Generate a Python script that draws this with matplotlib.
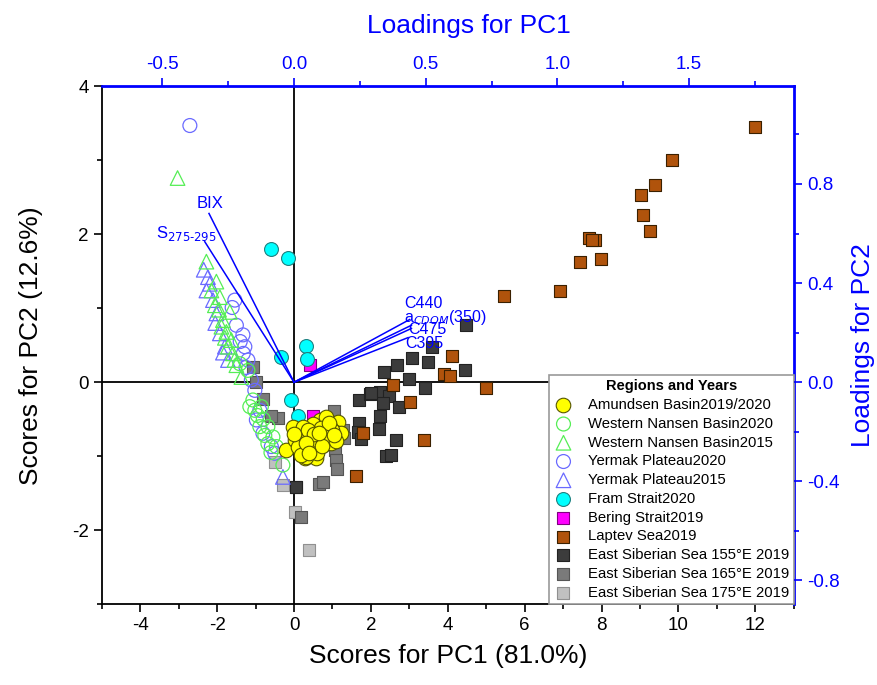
import numpy as np
import matplotlib.pyplot as plt
from matplotlib.ticker import MultipleLocator

plt.rcParams['font.family'] = ['Liberation Sans', 'DejaVu Sans']
plt.rcParams['axes.unicode_minus'] = False

# scores (PC1, PC2) per group
amundsen_x = [-0.03, -0.2, 0.28, 0.58, 0.67, 1.14, 0.88, 0.41, 0.15, 0.75, 0.02, 0.28, 0.93, 1.06,
              0.49, 0.23, 0.54, 1.01, 0.84, 1.23, 0.32, 0.62, 0.95, 0.7, 0.1, 0.45, 0.8, 1.1, 0.36,
              0.6, 0.0, 0.18, 0.98, 0.52, 0.72, 0.9, 0.3, 1.05, 0.66, 0.4]
amundsen_y = [-0.6, -0.92, -1.03, -1.03, -0.51, -0.54, -0.72, -0.69, -0.76, -0.85, -0.78, -0.9, -0.6,
              -0.67, -0.56, -0.6, -0.9, -0.74, -0.47, -0.69, -1.01, -0.78, -0.82, -0.62, -0.88, -0.8,
              -0.75, -0.8, -0.65, -0.95, -0.7, -0.98, -0.64, -0.7, -0.86, -0.55, -0.82, -0.72, -0.68, -0.95]
wnb2020_x = [-1.2, -1.07, -1.02, -0.85, -0.68, -0.76, -0.55, -0.89, -0.29, -1.15, -0.68, -0.46, -1.41,
             -0.95, -0.6, -0.8]
wnb2020_y = [0.16, -0.24, -0.38, -0.33, -0.6, -0.72, -0.74, -0.6, -1.12, -0.33, -0.83, -0.87, 0.25,
             -0.45, -0.95, -0.5]
wnb2015_x = [-3.03, -2.28, -2.02, -2.15, -1.93, -2.06, -1.67, -1.85, -1.76, -1.63, -1.72, -1.5, -1.37,
             -1.89, -1.59, -1.95, -1.8, -1.55]
wnb2015_y = [2.76, 1.63, 1.36, 1.24, 1.15, 1.04, 0.95, 0.84, 0.68, 0.57, 0.48, 0.23, 0.07,
             0.75, 0.39, 0.98, 0.6, 0.3]
yp2020_x = [-2.71, -1.54, -1.5, -1.33, -1.28, -1.32, -1.2, -1.11, -1.02, -0.89, -0.98, -0.81, -0.59,
            -0.5, -1.61, -1.4, -1.25]
yp2020_y = [3.47, 1.11, 0.77, 0.64, 0.48, 0.39, 0.3, 0.03, -0.11, -0.38, -0.51, -0.69, -0.87,
            -0.96, 1.01, 0.55, 0.2]
yp2015_x = [-2.24, -2.19, -2.28, -2.11, -2.02, -1.93, -1.8, -1.72, -0.29, -2.35, -2.05, -1.85]
yp2015_y = [1.42, 1.33, 1.24, 1.11, 0.93, 0.66, 0.48, 0.3, -1.28, 1.52, 0.8, 0.4]
fram_x = [-0.59, -0.16, 0.32, 0.34, -0.33, -0.07, 0.1]
fram_y = [1.8, 1.68, 0.49, 0.31, 0.34, -0.24, -0.46]
bering_x = [0.41, 0.5]
bering_y = [0.23, -0.46]
laptev_x = [12.0, 9.84, 9.40, 9.02, 9.09, 9.27, 7.67, 7.82, 7.75, 7.45, 7.99, 6.93, 5.45, 4.12,
            3.90, 4.05, 2.58, 4.99, 3.03, 3.38, 1.60, 1.79]
laptev_y = [3.45, 3.00, 2.66, 2.53, 2.26, 2.04, 1.95, 1.92, 1.92, 1.63, 1.67, 1.23, 1.16, 0.36,
            0.11, 0.09, -0.04, -0.08, -0.27, -0.78, -1.27, -0.69]
ess155_x = [4.47, 3.6, 3.08, 3.49, 2.68, 2.33, 2.98, 4.46, 3.42, 1.68, 1.97, 2.23, 2.47, 2.31, 2.72,
            2.23, 1.68, 2.2, 1.66, 1.73, 2.64, 2.4, 2.53, 2.0, 0.04]
ess155_y = [0.78, 0.47, 0.33, 0.28, 0.23, 0.14, 0.05, 0.17, -0.08, -0.24, -0.16, -0.13, -0.18, -0.28,
            -0.33, -0.46, -0.55, -0.63, -0.67, -0.77, -0.78, -1.0, -0.99, -0.15, -1.41]
ess165_x = [-1.07, -0.98, -0.8, -0.42, -0.59, 1.03, 1.27, 1.06, 1.1, 1.12, 0.64, 0.75, 0.04, 0.19, 1.3]
ess165_y = [0.21, 0.0, -0.22, -0.49, -0.45, -0.39, -0.65, -0.92, -1.05, -1.17, -1.38, -1.35, -1.41,
            -1.82, -0.75]
ess175_x = [-0.5, -0.29, 0.02, 0.38]
ess175_y = [-1.08, -1.39, -1.75, -2.27]

# loadings (PC1, PC2)
load_names = ['BIX', 'S275', 'C440', 'aCDOM', 'C475', 'C395']
load_x = [-0.323, -0.339, 0.439, 0.446, 0.446, 0.433]
load_y = [0.681, 0.567, 0.253, 0.230, 0.217, 0.180]

blue = '#0000FF'

fig = plt.figure(figsize=(8.78, 6.85), dpi=100)
ax = fig.add_axes([0.116, 0.118, 0.788, 0.756])
ax.set_xlim(-5, 13)
ax.set_ylim(-3, 4)
ax.axhline(0, color='black', lw=1.3, zorder=1)
ax.axvline(0, color='black', lw=1.3, zorder=1)

# drawn back to front
ax.scatter(ess175_x, ess175_y, s=80, marker='s', c='#C0C0C0', edgecolors='#909090', lw=0.8, zorder=2,
           label='East Siberian Sea 175°E 2019')
ax.scatter(ess165_x, ess165_y, s=80, marker='s', c='#7A7A7A', edgecolors='#555555', lw=0.8, zorder=2,
           label='East Siberian Sea 165°E 2019')
ax.scatter(ess155_x, ess155_y, s=80, marker='s', c='#3C3C3C', edgecolors='#222222', lw=0.8, zorder=2,
           label='East Siberian Sea 155°E 2019')
ax.scatter(laptev_x, laptev_y, s=80, marker='s', c='#B0530C', edgecolors='#3A2000', lw=0.8, zorder=3,
           label='Laptev Sea2019')
ax.scatter(bering_x, bering_y, s=80, marker='s', c='#FF00FF', edgecolors='#800080', lw=0.8, zorder=3,
           label='Bering Strait2019')
ax.scatter(fram_x, fram_y, s=100, marker='o', c='#00FFFF', edgecolors='#208080', lw=0.8, zorder=3,
           label='Fram Strait2020')
ax.scatter(yp2015_x, yp2015_y, s=110, marker='^', facecolors='none', edgecolors='#6A6AFF', lw=0.9,
           zorder=3, label='Yermak Plateau2015')
ax.scatter(yp2020_x, yp2020_y, s=100, marker='o', facecolors='none', edgecolors='#6A6AFF', lw=0.9,
           zorder=3, label='Yermak Plateau2020')
ax.scatter(wnb2015_x, wnb2015_y, s=110, marker='^', facecolors='none', edgecolors='#55EE55', lw=0.9,
           zorder=3, label='Western Nansen Basin2015')
ax.scatter(wnb2020_x, wnb2020_y, s=100, marker='o', facecolors='none', edgecolors='#55EE55', lw=0.9,
           zorder=3, label='Western Nansen Basin2020')
ax.scatter(amundsen_x, amundsen_y, s=110, marker='o', c='#FFFF00', edgecolors='#555500', lw=0.8,
           zorder=4, label='Amundsen Basin2019/2020')

ax.set_xlabel('Scores for PC1 (81.0%)', fontsize=19, labelpad=7)
ax.set_ylabel('Scores for PC2 (12.6%)', fontsize=19, labelpad=21)
ax.xaxis.set_major_locator(MultipleLocator(2))
ax.xaxis.set_minor_locator(MultipleLocator(1))
ax.yaxis.set_major_locator(MultipleLocator(2))
ax.yaxis.set_minor_locator(MultipleLocator(1))
ax.tick_params(which='major', direction='out', length=6, width=1.2, labelsize=13.5)
ax.tick_params(which='minor', direction='out', length=3.5, width=1.2)
ax.tick_params(top=False, right=False)
for side in ['left', 'bottom']:
    ax.spines[side].set_linewidth(1.3)
for side in ['top', 'right']:
    ax.spines[side].set_color(blue)
    ax.spines[side].set_linewidth(2)

handles, labels = ax.get_legend_handles_labels()
order = [10, 9, 8, 7, 6, 5, 4, 3, 2, 1, 0]
leg = ax.legend([handles[i] for i in order], [labels[i] for i in order], loc='lower right',
                title='Regions and Years', title_fontproperties={'weight': 'bold', 'size': 10.5},
                fontsize=10.7, frameon=True, fancybox=False, framealpha=1, edgecolor='#999999',
                borderaxespad=0, labelspacing=0.32, handlelength=1.3, handletextpad=1.0,
                borderpad=0.3)
leg.get_frame().set_linewidth(1.2)
leg.set_zorder(10)

# loadings axes on top/right
ax2 = fig.add_axes(ax.get_position(), frameon=False)
ax2.set_xlim(-5 / 6.85, 13 / 6.85)
ax2.set_ylim(-3 / 3.35, 4 / 3.35)
ax2.xaxis.tick_top()
ax2.xaxis.set_label_position('top')
ax2.yaxis.tick_right()
ax2.yaxis.set_label_position('right')
ax2.xaxis.set_major_locator(MultipleLocator(0.5))
ax2.xaxis.set_minor_locator(MultipleLocator(0.25))
ax2.yaxis.set_major_locator(MultipleLocator(0.4))
ax2.yaxis.set_minor_locator(MultipleLocator(0.2))
ax2.xaxis.set_major_formatter(plt.FormatStrFormatter('%.1f'))
ax2.yaxis.set_major_formatter(plt.FormatStrFormatter('%.1f'))
ax2.tick_params(which='major', direction='out', length=6, width=1.2, labelsize=13.5, colors=blue)
ax2.tick_params(which='minor', direction='out', length=3.5, width=1.2, colors=blue)
ax2.set_xlabel('Loadings for PC1', fontsize=19, color=blue, labelpad=17)
ax2.xaxis.label.set_x(0.53)
ax2.set_ylabel('Loadings for PC2', fontsize=19, color=blue, labelpad=8)

for lx, ly in zip(load_x, load_y):
    ax2.plot([0, lx], [0, ly], color=blue, lw=1.1)

ax.text(-2.19, 2.42, 'BIX', color=blue, fontsize=12, ha='center', va='center', zorder=5)
ax.text(-2.79, 2.01, r'S$_{275\text{-}295}$', color=blue, fontsize=12, ha='center', va='center', zorder=5)
ax.text(3.37, 1.06, 'C440', color=blue, fontsize=11.5, ha='center', va='center', zorder=5)
ax.text(2.85, 0.88, r'a$_{CDOM}$(350)', color=blue, fontsize=11.5, ha='left', va='center', zorder=5)
ax.text(3.48, 0.71, 'C475', color=blue, fontsize=11.5, ha='center', va='center', zorder=5)
ax.text(3.40, 0.52, 'C395', color=blue, fontsize=11.5, ha='center', va='center', zorder=5)

fig.savefig('out.png', dpi=100)
